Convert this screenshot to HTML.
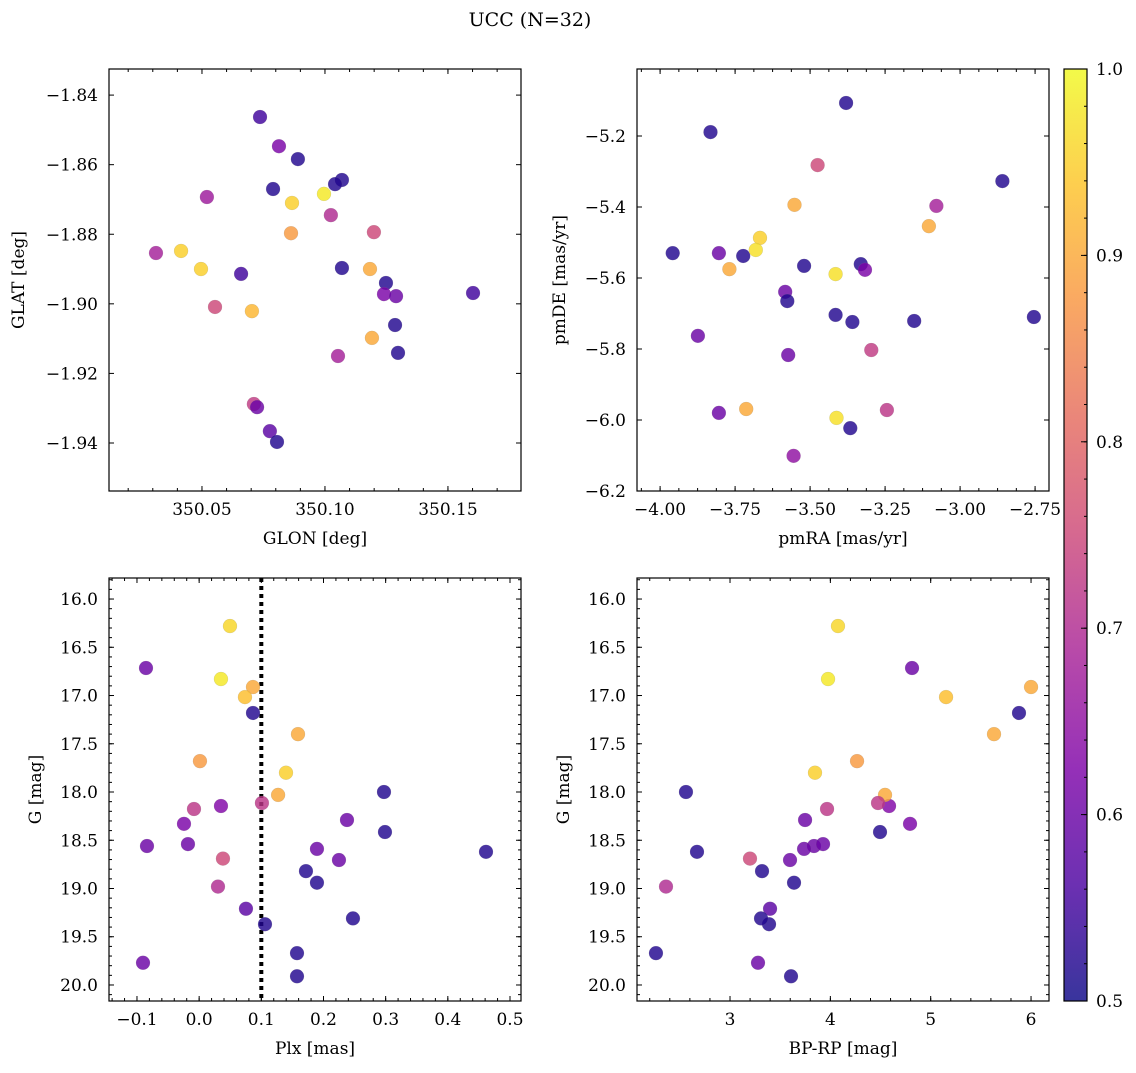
<!DOCTYPE html>
<html><head><meta charset="utf-8"><style>
body{margin:0;background:#fff}
svg text{font-family:"DejaVu Serif","Liberation Serif",serif;fill:#000}
</style></head><body>
<svg id="fig" width="1136" height="1068" xmlns="http://www.w3.org/2000/svg">
<defs><linearGradient id="cbg" x1="0" y1="1" x2="0" y2="0">
<stop offset="0" stop-color="#0d0887"/><stop offset="0.125" stop-color="#4c02a1"/><stop offset="0.25" stop-color="#7e03a8"/><stop offset="0.375" stop-color="#a82296"/><stop offset="0.5" stop-color="#cc4778"/><stop offset="0.625" stop-color="#e56b5d"/><stop offset="0.75" stop-color="#f89540"/><stop offset="0.875" stop-color="#fdc328"/><stop offset="1" stop-color="#f0f921"/></linearGradient></defs>
<text x="530" y="26" font-size="19" text-anchor="middle">UCC (N=32)</text>
</svg>
<script>
const p1x=[350.0736,350.0813,350.0890,350.1069,350.1041,350.0789,350.0996,350.0866,350.0520,350.1024,350.0862,350.1199,350.0313,350.0415,350.0496,350.1069,350.0659,350.1183,350.1248,350.0553,350.0703,350.1240,350.1289,350.1602,350.1285,350.1297,350.1191,350.1053,350.0711,350.0724,350.0776,350.0805];
const p1y=[-1.8463,-1.8547,-1.8584,-1.8644,-1.8656,-1.8670,-1.8684,-1.8710,-1.8693,-1.8745,-1.8797,-1.8794,-1.8854,-1.8848,-1.8900,-1.8897,-1.8914,-1.8900,-1.8940,-1.9009,-1.9021,-1.8972,-1.8978,-1.8969,-1.9061,-1.9141,-1.9098,-1.9150,-1.9288,-1.9297,-1.9366,-1.9397];
const p1c=[0.55,0.62,0.52,0.52,0.52,0.52,0.98,0.95,0.67,0.70,0.88,0.75,0.68,0.95,0.95,0.52,0.55,0.9,0.52,0.75,0.92,0.62,0.6,0.55,0.52,0.52,0.9,0.68,0.73,0.6,0.58,0.52];
const p2x=[-3.380,-3.832,-3.475,-2.859,-3.552,-3.079,-3.104,-3.667,-3.958,-3.804,-3.723,-3.681,-3.520,-3.331,-3.317,-3.769,-3.415,-3.583,-3.576,-3.415,-3.359,-3.153,-2.754,-3.874,-3.573,-3.296,-3.713,-3.804,-3.244,-3.412,-3.366,-3.555];
const p2y=[-5.107,-5.189,-5.282,-5.327,-5.394,-5.397,-5.454,-5.487,-5.530,-5.530,-5.538,-5.521,-5.566,-5.561,-5.577,-5.575,-5.589,-5.639,-5.665,-5.704,-5.724,-5.721,-5.710,-5.763,-5.817,-5.803,-5.969,-5.980,-5.972,-5.994,-6.023,-6.101];
const p2c=[0.52,0.52,0.75,0.52,0.9,0.68,0.9,0.95,0.52,0.6,0.52,0.97,0.52,0.52,0.62,0.9,0.97,0.6,0.52,0.52,0.52,0.52,0.52,0.6,0.6,0.73,0.9,0.6,0.72,0.97,0.52,0.65];
const p3x=[0.0496,-0.0855,0.0351,0.0866,0.0737,0.0866,0.159,0.0013,0.1397,0.0351,0.127,0.101,-0.0083,0.2973,0.2378,-0.0244,0.2989,-0.0839,-0.018,0.1895,0.4614,0.0383,0.2249,0.1718,0.1895,0.0303,0.0753,0.1059,0.2474,0.1574,-0.0903,0.1574];
const gmag=[16.28,16.715,16.829,16.912,17.016,17.181,17.40,17.68,17.80,18.145,18.03,18.114,18.176,18.0,18.29,18.33,18.415,18.56,18.54,18.59,18.62,18.69,18.705,18.82,18.94,18.98,19.21,19.37,19.31,19.67,19.77,19.91];
const p4x=[4.076,4.814,3.977,6.0,5.153,5.88,5.631,4.266,3.847,4.585,4.545,4.475,3.967,2.561,3.748,4.794,4.495,3.837,3.927,3.738,2.671,3.199,3.598,3.319,3.638,2.362,3.399,3.389,3.309,2.262,3.279,3.608];
const pc=[0.96,0.6,0.98,0.9,0.93,0.52,0.9,0.88,0.95,0.63,0.9,0.72,0.72,0.52,0.6,0.62,0.52,0.6,0.6,0.6,0.52,0.75,0.6,0.52,0.52,0.7,0.58,0.52,0.52,0.52,0.6,0.52];
const plxLine=0.1;
const cbTicks=[0.5,0.6,0.7,0.8,0.9,1.0];

const NS="http://www.w3.org/2000/svg";
const svg=document.getElementById('fig');
function mk(tag,at,par){const e=document.createElementNS(NS,tag);for(const k in at)e.setAttribute(k,at[k]);(par||svg).appendChild(e);return e;}
const stops=[[0,[13,8,135]],[0.125,[76,2,161]],[0.25,[126,3,168]],[0.375,[168,34,150]],[0.5,[204,71,120]],[0.625,[229,107,93]],[0.75,[248,149,64]],[0.875,[253,195,40]],[1,[240,249,33]]];
function cmap(v){let t=Math.max(0,Math.min(1,(v-0.5)/0.5));for(let i=1;i<stops.length;i++){if(t<=stops[i][0]){const a=stops[i-1],b=stops[i];const f=(t-a[0])/(b[0]-a[0]);const c=a[1].map((x,j)=>Math.round(x+(b[1][j]-x)*f));return `rgb(${c})`;}}return 'rgb(240,249,33)';}
const fmt=(v,d)=>{const s=Math.abs(v).toFixed(d);return (v<-1e-9?'\u2212':'')+s;};
function panel(o){
  const g=mk('g',{});
  
  
  const X=v=>o.x0+(v-o.xmin)/(o.xmax-o.xmin)*o.w;
  const Y=v=>o.y0+(v-o.ytop)/(o.ybot-o.ytop)*o.h;
  const tk=(arr,len,axis)=>{arr.forEach(v=>{
    if(axis==='x'){const x=X(v);if(x<o.x0-0.5||x>o.x0+o.w+0.5)return;mk('line',{x1:x,x2:x,y1:o.y0+o.h,y2:o.y0+o.h-len,stroke:'#000','stroke-width':1},g);mk('line',{x1:x,x2:x,y1:o.y0,y2:o.y0+len,stroke:'#000','stroke-width':1},g);}
    else{const y=Y(v);if(y<o.y0-0.5||y>o.y0+o.h+0.5)return;mk('line',{x1:o.x0,x2:o.x0+len,y1:y,y2:y,stroke:'#000','stroke-width':1},g);mk('line',{x1:o.x0+o.w,x2:o.x0+o.w-len,y1:y,y2:y,stroke:'#000','stroke-width':1},g);}
  });};
  const minors=(ticks,n)=>{const st=(ticks[1]-ticks[0])/n;const r=[];for(let v=ticks[0]-st*n*2;v<=ticks[ticks.length-1]+st*n*2+1e-9;v+=st)r.push(v);return r;};
  tk(minors(o.xt,o.xn),3,'x');tk(minors(o.yt,o.yn),3,'y');
  tk(o.xt,5,'x');tk(o.yt,5,'y');
  o.xt.forEach(v=>{const t=mk('text',{x:X(v),y:o.y0+o.h+24,'font-size':17,'text-anchor':'middle'},g);t.textContent=o.xf(v);});
  o.yt.forEach(v=>{const t=mk('text',{x:o.x0-11,y:Y(v)+6,'font-size':17,'text-anchor':'end'},g);t.textContent=o.yf(v);});
  const xl=mk('text',{x:o.x0+o.w/2,y:o.y0+o.h+53,'font-size':17,'text-anchor':'middle'},g);xl.textContent=o.xl;
  
  const yl=mk('text',{x:0,y:0,'font-size':17,'text-anchor':'middle',transform:`translate(${o.ylx},${o.y0+o.h/2}) rotate(-90)`},g);yl.textContent=o.yl;
  
  if(o.vline!==undefined){const l=mk('line',{x1:X(o.vline),x2:X(o.vline),y1:o.y0,y2:o.y0+o.h,stroke:'#000','stroke-width':4,'stroke-dasharray':'4 4'},g);}
  o.px.forEach((v,i)=>{const c=mk('circle',{cx:X(v),cy:Y(o.py[i]),r:7,fill:cmap(o.pc[i]),'fill-opacity':0.82,stroke:'#888','stroke-opacity':0.3,'stroke-width':0.5},g);
    
    });
  mk('rect',{x:o.x0,y:o.y0,width:o.w,height:o.h,fill:'none',stroke:'#000','stroke-width':1.2},g);
}
panel({name:'glon-glat-panel',ylx:24,x0:109,y0:69,w:412,h:422,xmin:350.0122,xmax:350.1797,ytop:-1.8325,ybot:-1.9538,xt:[350.05,350.10,350.15],xn:5,yt:[-1.84,-1.86,-1.88,-1.90,-1.92,-1.94],yn:4,xf:v=>fmt(v,2),yf:v=>fmt(v,2),xl:'GLON [deg]',yl:'GLAT [deg]',px:p1x,py:p1y,pc:p1c});
panel({name:'proper-motion-panel',ylx:565,x0:637,y0:69,w:412,h:422,xmin:-4.077,xmax:-2.7036,ytop:-5.0113,ybot:-6.2,xt:[-4,-3.75,-3.5,-3.25,-3,-2.75],xn:4,yt:[-5.2,-5.4,-5.6,-5.8,-6.0,-6.2],yn:4,xf:v=>fmt(v,2),yf:v=>fmt(v,1),xl:'pmRA [mas/yr]',yl:'pmDE [mas/yr]',px:p2x,py:p2y,pc:p2c});
panel({name:'plx-g-panel',ylx:41,x0:109,y0:578,w:412,h:423,xmin:-0.145,xmax:0.5177,ytop:15.782,ybot:20.166,xt:[-0.1,0,0.1,0.2,0.3,0.4,0.5],xn:5,yt:[16,16.5,17,17.5,18,18.5,19,19.5,20],yn:5,xf:v=>fmt(v,1),yf:v=>fmt(v,1),xl:'Plx [mas]',yl:'G [mag]',px:p3x,py:gmag,pc:pc,vline:plxLine});
panel({name:'cmd-panel',ylx:569,x0:637,y0:578,w:412,h:423,xmin:2.073,xmax:6.179,ytop:15.782,ybot:20.166,xt:[3,4,5,6],xn:5,yt:[16,16.5,17,17.5,18,18.5,19,19.5,20],yn:5,xf:v=>fmt(v,0),yf:v=>fmt(v,1),xl:'BP-RP [mag]',yl:'G [mag]',px:p4x,py:gmag,pc:pc});
const cg=mk('g',{});


const cx0=1064,cw=23,cy0=69,ch=932;
const CY=v=>cy0+ch-(v-0.5)/0.5*ch;
mk('rect',{x:cx0,y:cy0,width:cw,height:ch,fill:'url(#cbg)','fill-opacity':0.82},cg);
for(let v=0.5;v<=1.0001;v+=0.02){mk('line',{x1:cx0+cw,x2:cx0+cw-3,y1:CY(v),y2:CY(v),stroke:'#000'},cg);}
cbTicks.forEach(v=>{mk('line',{x1:cx0+cw,x2:cx0+cw-6,y1:CY(v),y2:CY(v),stroke:'#000'},cg);const t=mk('text',{x:cx0+cw+9,y:CY(v)+6,'font-size':17},cg);t.textContent=v.toFixed(1);
 
 });
mk('rect',{x:cx0,y:cy0,width:cw,height:ch,fill:'none',stroke:'#000','stroke-width':1.2},cg);
</script>
</body></html>
